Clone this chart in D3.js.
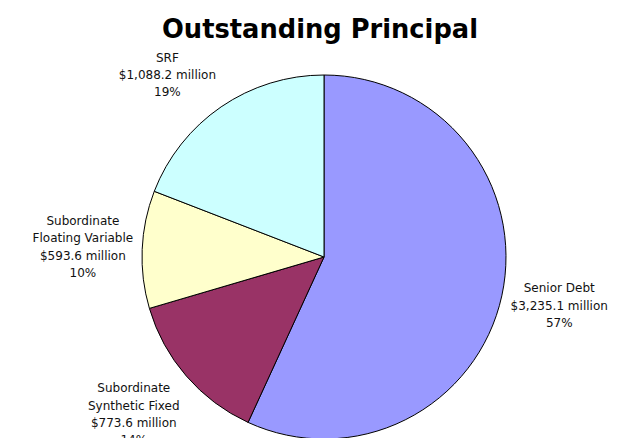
<!DOCTYPE html>
<html>
<head>
<meta charset="utf-8">
<script src="https://cdn.jsdelivr.net/npm/d3@7"></script>
<style>
  html, body { margin: 0; padding: 0; background: #fff; }
  svg { display: block; }
</style>
</head>
<body>
<svg id="chart" width="636" height="438"></svg>
<script>
// Outstanding principal by debt category, in $ millions
const categories = ["Senior Debt", "Subordinate Synthetic Fixed", "Subordinate Floating Variable", "SRF"];
const labelLines = [["Senior Debt"], ["Subordinate", "Synthetic Fixed"], ["Subordinate", "Floating Variable"], ["SRF"]];
const principal = [3235.1, 773.6, 593.6, 1088.2];
const colors = ["#9999FF", "#993366", "#FFFFCC", "#CCFFFF"];

const width = 636, height = 438;
const cx = 324, cy = 257, radius = 182;

const svg = d3.select("#chart");

svg.append("text")
  .attr("x", 320)
  .attr("y", 38)
  .attr("text-anchor", "middle")
  .attr("font-family", "DejaVu Sans, Verdana, sans-serif")
  .attr("font-weight", "bold")
  .attr("font-size", 26)
  .attr("textLength", 316)
  .attr("lengthAdjust", "spacingAndGlyphs")
  .text("Outstanding Principal");

const data = categories.map((c, i) => ({ name: c, lines: labelLines[i], value: principal[i], color: colors[i] }));
const total = d3.sum(principal);

const pie = d3.pie().value(d => d.value).sort(null);
const arc = d3.arc().innerRadius(0).outerRadius(radius);
const arcs = pie(data);

const g = svg.append("g").attr("transform", `translate(${cx},${cy})`);

g.selectAll("path.slice")
  .data(arcs)
  .join("path")
  .attr("class", "slice")
  .attr("d", arc)
  .attr("fill", d => d.data.color)
  .attr("stroke", "#000")
  .attr("stroke-width", 1)
  .attr("stroke-linejoin", "round");

const fmt = d3.format(",.1f");
const pct = d3.format(".0%");
const lineStep = 17.3;
const anchorRadius = radius + 9;

arcs.forEach(a => {
  const mid = (a.startAngle + a.endAngle) / 2;
  const s = Math.sin(mid), c = Math.cos(mid);
  const lines = a.data.lines.concat(["$" + fmt(a.data.value) + " million", pct(a.data.value / total)]);

  const label = g.append("text")
    .attr("font-family", "DejaVu Sans, Verdana, sans-serif")
    .attr("font-size", 12)
    .attr("fill", "#111")
    .attr("text-anchor", "middle");

  lines.forEach((t, i) => {
    label.append("tspan").attr("x", 0).attr("y", i * lineStep).text(t);
  });

  // Label box touches the point just outside the arc's midpoint
  const bb = label.node().getBBox();
  const px = anchorRadius * s, py = -anchorRadius * c;
  let boxX;
  if (s > 0.1) boxX = px;
  else if (s < -0.1) boxX = px - bb.width;
  else boxX = px - bb.width / 2;
  const vy = Math.max(-1, Math.min(1, c * 1.5));
  const boxCy = py - vy * bb.height / 2;
  const dx = boxX - bb.x;
  const dy = boxCy - (bb.y + bb.height / 2);
  label.attr("transform", `translate(${dx},${dy})`);
});
</script>
</body>
</html>
